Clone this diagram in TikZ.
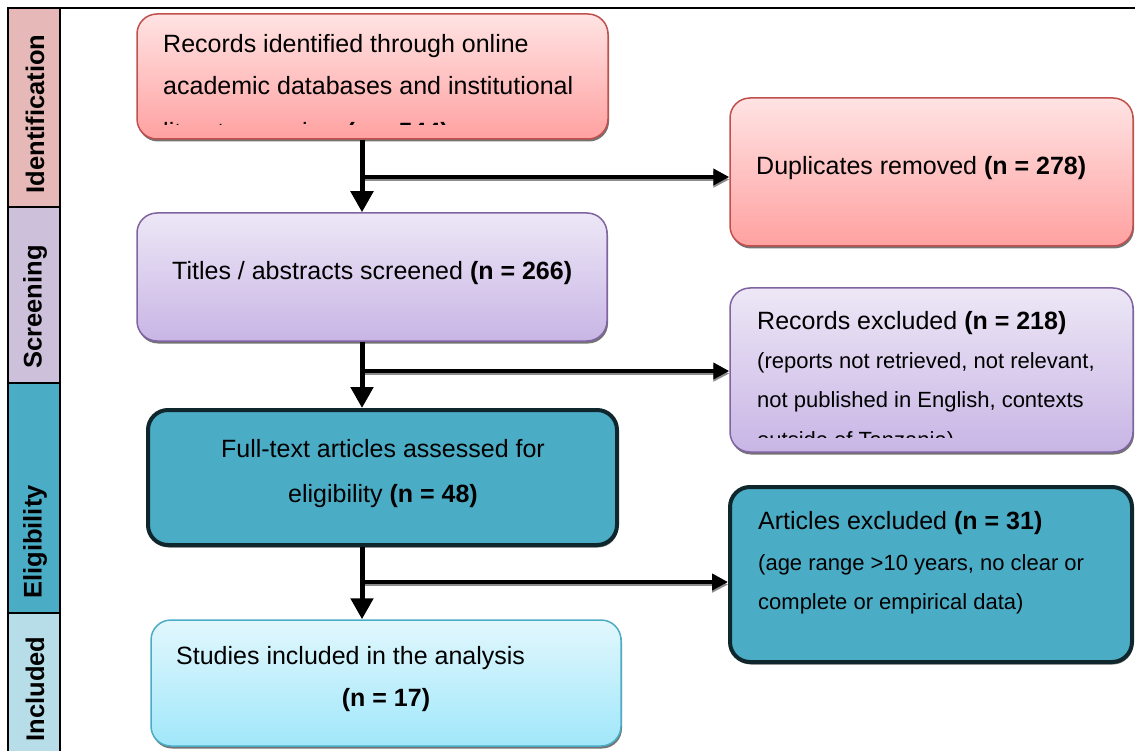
\documentclass[tikz,border=0pt]{standalone}
\usepackage{fontspec}
\setmainfont{Liberation Sans}
\usetikzlibrary{arrows.meta,shadows}
\definecolor{cId}{HTML}{E6B9B8}
\definecolor{cSc}{HTML}{CCC0DA}
\definecolor{cEl}{HTML}{4BACC6}
\definecolor{cIn}{HTML}{B7DEE8}
\definecolor{redB}{HTML}{C0504D}
\definecolor{redT}{HTML}{FFE3E3}
\definecolor{redD}{HTML}{FFA1A1}
\definecolor{purB}{HTML}{8064A2}
\definecolor{purT}{HTML}{EDE7F6}
\definecolor{purD}{HTML}{C8B5E5}
\definecolor{tealB}{HTML}{0F262C}
\definecolor{cyanT}{HTML}{E2F7FD}
\definecolor{cyanD}{HTML}{A0E7FA}
\tikzset{
  box/.style={rounded corners=20pt, inner sep=0pt, line width=1.5pt,
    drop shadow={shadow xshift=1pt, shadow yshift=-2.5pt, fill=black!55, opacity=1}},
  redbox/.style={box, draw=redB, top color=redT, bottom color=redD},
  purbox/.style={box, draw=purB, top color=purT, bottom color=purD},
  tealbox/.style={box, draw=tealB, line width=4pt, fill=cEl},
  cyanbox/.style={box, draw=cEl, top color=cyanT, bottom color=cyanD},
  txt/.style={anchor=base west, inner sep=0pt, font=\fontsize{25}{30}\selectfont},
  ctxt/.style={txt, anchor=base},
  stxt/.style={anchor=base west, inner sep=0pt, font=\fontsize{22}{26}\selectfont},
  lab/.style={inner sep=0pt, rotate=90, font=\fontsize{25.5}{30}\selectfont\bfseries},
  vArrow/.style={line width=5pt, -{Triangle[width=22pt,length=21pt]}},
  hArrow/.style={line width=4pt, -{Triangle[width=16pt,length=16pt]},
    preaction={draw=black!45, line width=2.5pt, transform canvas={yshift=-2.5pt}}},
}
\begin{document}
\begin{tikzpicture}[x=1pt,y=-1pt]
\useasboundingbox (0,0) rectangle (1135,751);
% left stage column
\fill[cId] (8,8) rectangle (60,207);
\fill[cSc] (8,207) rectangle (60,383);
\fill[cEl] (8,383) rectangle (60,613);
\fill[cIn] (8,613) rectangle (60,751);
\draw[line width=2pt] (1135,8) -- (8,8) -- (8,751);
\draw[line width=2pt] (60,8) -- (60,751);
\draw[line width=2pt] (8,207) -- (60,207);
\draw[line width=2pt] (8,383) -- (60,383);
\draw[line width=2pt] (8,613) -- (60,613);
\node[lab] (lId) at (35,114) {Identification};
\node[lab] (lSc) at (35,307) {Screening};
\node[lab] (lEl) at (35,542) {Eligibility};
\node[lab] (lIn) at (35,689) {Included};

% boxes
\node[redbox, minimum width=471pt, minimum height=125pt] (b1) at (372.5,76.5) {};
\node[redbox, minimum width=403pt, minimum height=148pt] (b2) at (931.5,172) {};
\node[purbox, minimum width=470pt, minimum height=128pt] (b3) at (372,277) {};
\node[purbox, minimum width=403pt, minimum height=164pt] (b4) at (931.5,370) {};
\node[tealbox, minimum width=469pt, minimum height=135pt] (b5) at (382.5,477.5) {};
\node[tealbox, minimum width=402pt, minimum height=175pt] (b6) at (931,574.5) {};
\node[cyanbox, minimum width=470pt, minimum height=126pt] (b7) at (386,683) {};

% texts
\node[txt] (t1a) at (163,53) {Records identified through online};
\node[txt] (t1b) at (163,95) {academic databases and institutional};
\begin{scope}
  \clip (140,100) rectangle (600,125);
  \node[txt] (t1c) at (163,140.5) {literature review \textbf{(n = 544)}};
\end{scope}
\node[txt] (t2) at (756,175) {Duplicates removed \textbf{(n = 278)}};
\node[txt] (t3) at (172,280) {Titles / abstracts screened \textbf{(n = 266)}};
\node[txt] (t4a) at (757,329) {Records excluded \textbf{(n = 218)}};
\node[stxt] (t4b) at (757,368) {(reports not retrieved, not relevant,};
\node[stxt] (t4c) at (757,407) {not published in English, contexts};
\begin{scope}
  \clip (735,415) rectangle (1125,437);
  \node[stxt] (t4d) at (757,447) {outside of Tanzania)};
\end{scope}
\node[ctxt] (t5a) at (383,457) {Full-text articles assessed for};
\node[ctxt] (t5b) at (383,502) {eligibility \textbf{(n = 48)}};
\node[txt] (t6a) at (758,529) {Articles excluded \textbf{(n = 31)}};
\node[stxt] (t6b) at (758,570) {(age range >10 years, no clear or};
\node[stxt] (t6c) at (758,609) {complete or empirical data)};
\node[txt] (t7a) at (176,664) {Studies included in the analysis};
\node[ctxt] (t7b) at (386,706) {\textbf{(n = 17)}};

% connectors
\coordinate (ax) at (362,0);
\coordinate (y1) at (0,177);
\coordinate (y2) at (0,371);
\coordinate (y3) at (0,582);
\draw[hArrow] (ax |- y1) -- (b2.west |- y1);
\draw[hArrow] (ax |- y2) -- (b4.west |- y2);
\draw[hArrow] (ax |- y3) -- (b6.west |- y3);
\draw[vArrow] (b1.south -| ax) -- (b3.north -| ax);
\draw[vArrow] (b3.south -| ax) -- (b5.north -| ax);
\draw[vArrow] (b5.south -| ax) -- (b7.north -| ax);
\end{tikzpicture}
\end{document}
